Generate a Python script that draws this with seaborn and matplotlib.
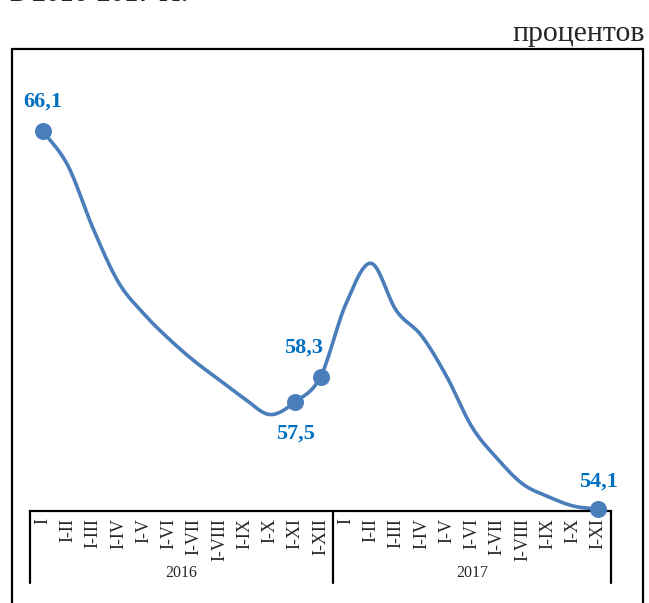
import numpy as np
import pandas as pd
import seaborn as sns
import matplotlib.pyplot as plt
from matplotlib.patches import Rectangle

# periods (cumulative from January) for the two years
months = ['I', 'I-II', 'I-III', 'I-IV', 'I-V', 'I-VI', 'I-VII', 'I-VIII',
          'I-IX', 'I-X', 'I-XI', 'I-XII']
labels_2016 = months
labels_2017 = months[:11]
years = ['2016', '2017']

# percent values
values = [66.1, 65.0, 63.0, 61.3, 60.3, 59.5, 58.8, 58.2, 57.6, 57.1, 57.5, 58.3,
          60.6, 61.9, 60.4, 59.6, 58.3, 56.7, 55.7, 54.9, 54.5, 54.2, 54.1]
labelled = [0, 10, 11, 22]   # points that have a marker and a data label

categories = labels_2016 + labels_2017
df = pd.DataFrame({'pos': np.arange(len(values)), 'value': values})


def smooth(x, y, n=24):
    # Excel-like smoothed line (bezier through the points)
    p = np.column_stack([x, y]).astype(float)
    ext = np.vstack([p[0], p, p[-1]])
    t = np.linspace(0, 1, n, endpoint=False)[:, None]
    parts = []
    for i in range(len(p) - 1):
        p0, p1, p2, p3 = ext[i], ext[i + 1], ext[i + 2], ext[i + 3]
        c1 = p1 + (p2 - p0) / 6
        c2 = p2 - (p3 - p1) / 6
        parts.append((1 - t) ** 3 * p1 + 3 * (1 - t) ** 2 * t * c1
                     + 3 * (1 - t) * t ** 2 * c2 + t ** 3 * p2)
    parts.append(p[-1:])
    return np.vstack(parts)


sns.set_style('white')
plt.rcParams['font.family'] = ['Liberation Serif', 'DejaVu Serif']

W, H = 649, 603
fig = plt.figure(figsize=(W / 100, H / 100), dpi=100)
ax = fig.add_axes([30 / W, 1 - 511 / H, 581 / W, (511 - 60) / H])

line_color = '#4A7EBB'
label_color = '#0070C0'

curve = smooth(df['pos'], df['value'])
sns.lineplot(x=curve[:, 0], y=curve[:, 1], sort=False, color=line_color,
             linewidth=2.6, ax=ax)
pts = df.iloc[labelled]
sns.scatterplot(data=pts, x='pos', y='value', color=line_color, s=150,
                edgecolor=line_color, linewidth=0, ax=ax, zorder=5, clip_on=False)

# data labels
offsets = {0: (0, 21), 10: (0, -23), 11: (-12, 21), 22: (0, 20)}
for i in labelled:
    ax.annotate(f'{values[i]:.1f}'.replace('.', ','), (i, values[i]),
                xytext=offsets[i], textcoords='offset points',
                ha='center', va='center', fontsize=16, fontweight='bold',
                color=label_color, annotation_clip=False)

ax.set_xlim(-0.5, len(values) - 0.5)
ax.set_ylim(54.04, 68.35)
ax.set_xlabel('')
ax.set_ylabel('')
ax.set_yticks([])
ax.set_xticks(range(len(categories)))
ax.set_xticklabels(categories, rotation=90, fontsize=13, va='top')
ax.tick_params(axis='x', length=0, pad=5)
for s in ['top', 'left', 'right']:
    ax.spines[s].set_visible(False)
ax.spines['bottom'].set_color('black')
ax.spines['bottom'].set_linewidth(1.6)

# group lines and year labels under the axis
trans = ax.get_xaxis_transform()
ax_h = 511 - 60
for xv in [-0.5, len(labels_2016) - 0.5, len(values) - 0.5]:
    ax.plot([xv, xv], [0, -72 / ax_h], transform=trans, color='black',
            lw=1.6, clip_on=False)
ax.text((len(labels_2016) - 1) / 2, -62 / ax_h, years[0], transform=trans,
        ha='center', va='center', fontsize=11.5)
ax.text(len(labels_2016) + (len(labels_2017) - 1) / 2, -62 / ax_h, years[1],
        transform=trans, ha='center', va='center', fontsize=11.5)

# outer frame and texts around the chart
fig.add_artist(Rectangle((12 / W, -0.05), (643 - 12) / W, 1 - 49 / H + 0.05,
                         transform=fig.transFigure, fill=False, lw=1.6,
                         ec='black'))
fig.text(645 / W, 1 - 41 / H, 'процентов', ha='right', va='baseline',
         fontsize=21.5)
# last line of the heading, cut by the top edge as in the source
fig.text(10 / W, 1 - 1 / H, 'в 2016-2017 гг.', ha='left', va='baseline',
         fontsize=20, fontweight='bold')

fig.savefig('out.png', dpi=100)
